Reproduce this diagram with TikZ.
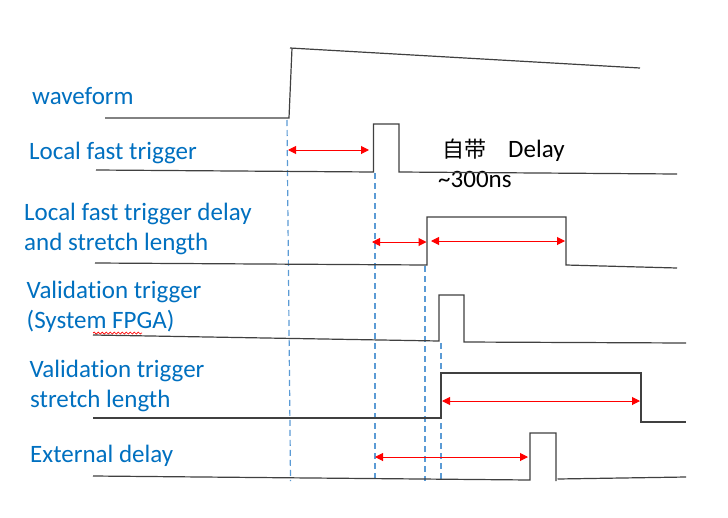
\documentclass[tikz,border=0pt]{standalone}
\usepackage{fontspec}
\setmainfont{Carlito}[RawFeature=-liga]
\newfontfamily\cjk{Noto Sans CJK SC}
\usetikzlibrary{arrows.meta,decorations.pathmorphing}
\definecolor{lblblue}{RGB}{0,112,192}
\definecolor{guide}{RGB}{91,155,213}
\definecolor{sig}{RGB}{64,64,64}
\newcommand{\valword}{Validat\kern0pt ion}
\tikzset{
  signal/.style={draw=sig,line width=1.2pt,line join=miter},
  guideline/.style={draw=guide,line width=1.2pt,dash pattern=on 6pt off 4pt},
  span/.style={draw=red,line width=1pt,{Triangle[length=8pt,width=8pt]}-{Triangle[length=8pt,width=8pt]}},
  lbl/.style={anchor=base west,inner sep=0pt,text=lblblue,font=\fontsize{25}{30}\selectfont},
  note/.style={anchor=base west,inner sep=0pt,text=black,font=\fontsize{25}{30}\selectfont}
}
\begin{document}
\begin{tikzpicture}[x=1pt,y=-1pt]
\useasboundingbox[fill=white] (0,0) rectangle (728,517);

% labels
\node[lbl] (l1) at (32,104) {waveform};
\node[lbl] (l2) at (29,159) {Local fast trigger};
\node[lbl] (l3a) at (24,220) {Local fast trigger delay};
\node[lbl] (l3b) at (24,250) {and stretch length};
\node[lbl] (l4a) at (26.5,298) {\valword{} trigger};
\node[lbl] (l4b) at (26.5,328) {(System FPGA)};
\node[lbl] (l5a) at (29.5,377) {\valword{} trigger};
\node[lbl] (l5b) at (30,407) {stretch length};
\node[lbl] (l6) at (30,462) {External delay};
\node[note] (n1) at (442,157) {{\cjk\fontsize{22}{28}\selectfont 自带}\hspace{22pt}Delay};
\node[note] (n2) at (438,187) {\textasciitilde 300ns};

% spell-check underline
\draw[red,line width=0.7pt,decorate,decoration={snake,segment length=4pt,amplitude=1pt}] (93,333) -- (142,333);

% guide lines
\draw[guideline] (287,120) -- (290.5,481);
\draw[guideline] (375,173) -- (375,481);
\draw[guideline] (425,266) -- (425,481);
\draw[guideline] (441,343) -- (441,481);

% signals
\draw[signal] (105,118) -- (289,118) -- (292,48);
\draw[signal] (290,48) -- (640,68);
\draw[signal] (96,170) -- (373.5,172) -- (373.5,124) -- (399,124) -- (399,172) -- (677,174);
\draw[signal] (95,263) -- (427,265) -- (427,217) -- (566,217) -- (566,265) -- (677,268);
\draw[signal] (93,335) -- (439,341) -- (439,295) -- (464,295) -- (464,342) -- (686,343);
\draw[signal] (93,418) -- (441,418) -- (441,373) -- (641,373) -- (641,422) -- (686,422);
\draw[signal] (93,476) -- (530,480) -- (530,433) -- (556,433) -- (556,481);
\draw[signal] (557.5,479) -- (686,477);

% spans
\coordinate (a1s) at (288,150); \coordinate (a1e) at (369,150);
\coordinate (a2s) at (372,242); \coordinate (a2e) at (426.5,242);
\coordinate (a3s) at (431,241); \coordinate (a3e) at (565,241);
\coordinate (a4s) at (442,401); \coordinate (a4e) at (640,401);
\coordinate (a5s) at (375,457); \coordinate (a5e) at (528,457);
\draw[span] (a1s) -- (a1e);
\draw[span] (a2s) -- (a2e);
\draw[span] (a3s) -- (a3e);
\draw[span] (a4s) -- (a4e);
\draw[span] (a5s) -- (a5e);
\end{tikzpicture}
\end{document}
